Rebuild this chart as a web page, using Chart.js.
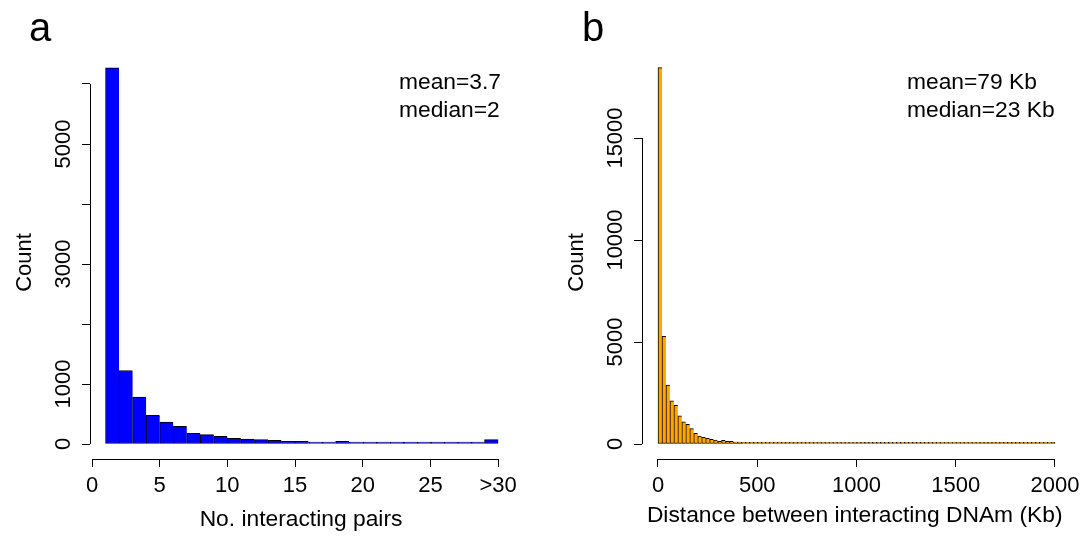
<!DOCTYPE html>
<html>
<head>
<meta charset="utf-8">
<script src="https://cdn.jsdelivr.net/npm/chart.js@4.4.1/dist/chart.umd.min.js"></script>
<style>
  html, body { margin: 0; padding: 0; background: #fff; }
  #wrap { position: relative; width: 1087px; height: 538px; }
  .panel { position: absolute; top: 0; height: 538px; }
  #panelA { left: 0; width: 543px; }
  #panelB { left: 543px; width: 544px; }
</style>
</head>
<body>
<div id="wrap">
  <div class="panel" id="panelA"><canvas id="pairsChart"></canvas></div>
  <div class="panel" id="panelB"><canvas id="distanceChart"></canvas></div>
</div>
<script>
// Panel a: number of interacting pairs (bins of width 1, last bin is ">30")
const pairsBinStart = [1, 2, 3, 4, 5, 6, 7, 8, 9, 10, 11, 12, 13, 14, 15, 16, 17, 18, 19, 20, 21, 22, 23, 24, 25, 26, 27, 28, 29];
const pairsCounts = [6270, 1225, 780, 478, 367, 294, 178, 156, 128, 94, 83, 72, 61, 44, 44, 28, 22, 44, 22, 28, 22, 6, 6, 3, 11, 6, 5, 6, 72];
const pairsXTicks = [0, 5, 10, 15, 20, 25, 30];
const pairsXLabels = ["0", "5", "10", "15", "20", "25", ">30"];
const pairsYTicks = [0, 1000, 2000, 3000, 4000, 5000, 6000];
const pairsYLabels = ["0", "1000", "", "3000", "", "5000", ""];
const pairsStats = ["mean=3.7", "median=2"];

// Panel b: distance between interacting DNAm, bins of 20 Kb
const distBinStart = [0, 20, 40, 60, 80, 100, 120, 140, 160, 180, 200, 220, 240, 260, 280, 300, 320, 340, 360, 380,
  400, 420, 440, 460, 480, 500, 520, 540, 560, 580, 600, 620, 640, 660, 680, 700, 720, 740, 760, 780,
  800, 820, 840, 860, 880, 900, 920, 940, 960, 980, 1000, 1020, 1040, 1060, 1080, 1100, 1120, 1140, 1160, 1180,
  1200, 1220, 1240, 1260, 1280, 1300, 1320, 1340, 1360, 1380, 1400, 1420, 1440, 1460, 1480, 1500, 1520, 1540, 1560, 1580,
  1600, 1620, 1640, 1660, 1680, 1700, 1720, 1740, 1760, 1780, 1800, 1820, 1840, 1860, 1880, 1900, 1920, 1940, 1960, 1980];
const distCounts = [18450, 5280, 2885, 2115, 1900, 1377, 1082, 967, 754, 525, 393, 328, 279, 230, 197, 131, 180, 131, 131, 98,
  98, 66, 49, 49, 33, 50, 30, 22, 20, 24, 65, 28, 22, 18, 20, 15, 16, 13, 12, 14,
  11, 10, 12, 9, 10, 8, 9, 7, 8, 7, 6, 8, 6, 5, 7, 5, 6, 4, 5, 6,
  4, 5, 3, 4, 5, 3, 4, 3, 2, 4, 3, 3, 2, 3, 2, 1, 3, 2, 2, 2,
  6, 1, 2, 1, 2, 1, 2, 1, 1, 1, 2, 1, 1, 1, 1, 1, 1, 1, 1, 1];
const distXTicks = [0, 500, 1000, 1500, 2000];
const distXLabels = ["0", "500", "1000", "1500", "2000"];
const distYTicks = [0, 5000, 10000, 15000];
const distYLabels = ["0", "5000", "10000", "15000"];
const distStats = ["mean=79 Kb", "median=23 Kb"];

const FONT = "'Liberation Sans', Arial, Helvetica, sans-serif";
Chart.defaults.font.family = FONT;
Chart.defaults.color = "#000";

// R-like decorations: detached axis lines, rotated y labels, panel letter, stats text
const rStyle = {
  id: "rStyle",
  afterDraw(chart, args, opts) {
    const ctx = chart.ctx;
    const area = chart.chartArea;
    const xs = chart.scales.x;
    const ys = chart.scales.y;
    ctx.save();
    ctx.strokeStyle = "#000";
    ctx.lineWidth = 1;

    const xb = Math.round(area.bottom) + 0.5;
    ctx.beginPath();
    ctx.moveTo(xs.getPixelForValue(xs.ticks[0].value), xb);
    ctx.lineTo(xs.getPixelForValue(xs.ticks[xs.ticks.length - 1].value), xb);
    ctx.stroke();

    const yl = Math.round(area.left) + 0.5;
    ctx.beginPath();
    ctx.moveTo(yl, ys.getPixelForValue(ys.ticks[0].value));
    ctx.lineTo(yl, ys.getPixelForValue(ys.ticks[ys.ticks.length - 1].value));
    ctx.stroke();

    ctx.fillStyle = "#000";
    ctx.font = "22px " + FONT;
    ctx.textAlign = "center";
    ctx.textBaseline = "alphabetic";
    ys.ticks.forEach((t, i) => {
      const lab = opts.yLabels[i];
      if (!lab) return;
      ctx.save();
      ctx.translate(area.left - 20, ys.getPixelForValue(t.value));
      ctx.rotate(-Math.PI / 2);
      ctx.fillText(lab, 0, 0);
      ctx.restore();
    });

    ctx.textAlign = "left";
    ctx.font = "22.8px " + FONT;
    opts.stats.forEach((s, i) => ctx.fillText(s, opts.statsX, 89 + i * 28));

    ctx.font = "40px " + FONT;
    ctx.fillText(opts.letter, opts.letterX, 41);
    ctx.restore();
  }
};

function histChart(id, cfg) {
  const n = cfg.starts.length;
  return new Chart(document.getElementById(id), {
    type: "bar",
    data: {
      datasets: [{
        data: cfg.starts.map((s, i) => ({ x: s + cfg.binWidth / 2, y: cfg.counts[i] })),
        backgroundColor: cfg.color,
        borderColor: "#000",
        borderWidth: c => ({ left: 1, top: 1, bottom: 1, right: c.dataIndex === n - 1 ? 1 : 0 }),
        borderSkipped: false,
        barPercentage: 1,
        categoryPercentage: 1,
        minBarLength: 1.8
      }]
    },
    options: {
      responsive: true,
      maintainAspectRatio: false,
      animation: false,
      devicePixelRatio: 1,
      layout: { padding: cfg.padding },
      plugins: {
        legend: { display: false },
        tooltip: { enabled: false },
        rStyle: { yLabels: cfg.yLabels, stats: cfg.stats, statsX: cfg.statsX, letter: cfg.letter, letterX: cfg.letterX }
      },
      scales: {
        x: {
          type: "linear",
          offset: false,
          min: cfg.xMin,
          max: cfg.xMax,
          afterBuildTicks: s => { s.ticks = cfg.xTicks.map(v => ({ value: v })); },
          afterFit: s => { s.height = 79; },
          border: { display: false },
          grid: { offset: false, drawOnChartArea: false, drawTicks: true, tickLength: 8, color: "#000", lineWidth: 1 },
          ticks: {
            autoSkip: false, maxRotation: 0, padding: 6,
            font: { size: 22 }, color: "#000",
            callback: (v, i) => cfg.xLabels[i]
          },
          title: { display: true, text: cfg.xTitle, font: { size: 22.8 }, color: "#000", padding: { top: 0, bottom: cfg.xTitlePad } }
        },
        y: {
          min: cfg.yMin,
          max: cfg.yMax,
          afterBuildTicks: s => { s.ticks = cfg.yTicks.map(v => ({ value: v })); },
          afterFit: s => { s.width = cfg.yWidth; },
          border: { display: false },
          grid: { drawOnChartArea: false, drawTicks: true, tickLength: 8, color: "#000", lineWidth: 1 },
          ticks: { display: false },
          title: { display: true, text: "Count", font: { size: 22 }, color: "#000", padding: { top: cfg.yTitlePad, bottom: 0 } }
        }
      }
    },
    plugins: [rStyle]
  });
}

histChart("pairsChart", {
  starts: pairsBinStart, counts: pairsCounts, binWidth: 1, color: "#0000FF",
  xMin: -0.148, xMax: 31.03, xTicks: pairsXTicks, xLabels: pairsXLabels, xTitle: "No. interacting pairs", xTitlePad: 5,
  yMin: -250, yMax: 6300, yTicks: pairsYTicks, yLabels: pairsYLabels, yWidth: 80, yTitlePad: 2,
  padding: { left: 10, right: 31, top: 66, bottom: 0 },
  stats: pairsStats, statsX: 399, letter: "a", letterX: 29
});

histChart("distanceChart", {
  starts: distBinStart, counts: distCounts, binWidth: 20, color: "#FFA500",
  xMin: -80.6, xMax: 2062.5, xTicks: distXTicks, xLabels: distXLabels, xTitle: "Distance between interacting DNAm (Kb)", xTitlePad: 9,
  yMin: -735, yMax: 18530, yTicks: distYTicks, yLabels: distYLabels, yWidth: 79, yTitlePad: 1,
  padding: { left: 20, right: 19.6, top: 66, bottom: 0 },
  stats: distStats, statsX: 364, letter: "b", letterX: 39
});
</script>
</body>
</html>
